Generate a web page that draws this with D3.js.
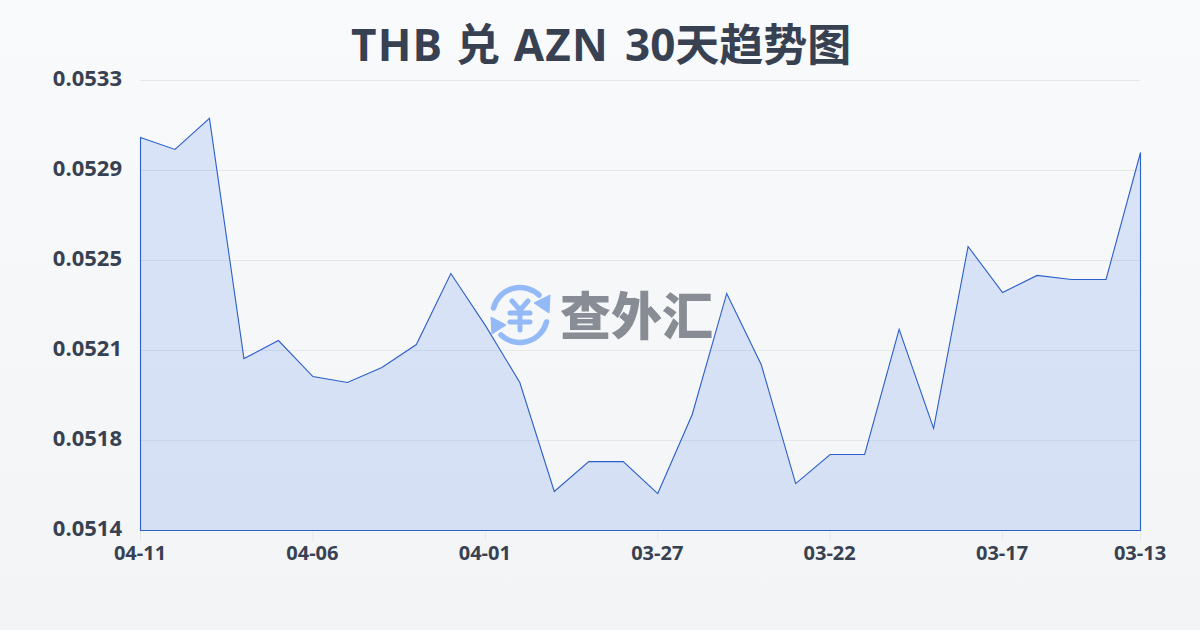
<!DOCTYPE html>
<html><head><meta charset="utf-8">
<script src="https://cdn.jsdelivr.net/npm/d3@7"></script>
<style>html,body{margin:0;padding:0;width:1200px;height:630px;overflow:hidden}svg{display:block}</style>
</head><body><svg id="c" width="1200" height="630"></svg>
<script>
const titlePair = "THB 兑 AZN";
const titleRest = "30天趋势图";
const dates = ["04-11","04-10","04-09","04-08","04-07","04-06","04-05","04-04","04-03","04-02","04-01","03-31","03-30","03-29","03-28","03-27","03-26","03-25","03-24","03-23","03-22","03-21","03-20","03-19","03-18","03-17","03-16","03-15","03-14","03-13"];
const rates = [0.053059,0.053009,0.053140,0.052126,0.052202,0.052050,0.052025,0.052088,0.052185,0.052485,0.052266,0.052025,0.051565,0.051691,0.051691,0.051556,0.051890,0.052401,0.052101,0.051598,0.051721,0.051721,0.052249,0.051831,0.052599,0.052405,0.052477,0.052460,0.052460,0.052996];
const xTickLabels = ["04-11","04-06","04-01","03-27","03-22","03-17","03-13"];
const yTickLabels = ["0.0514","0.0518","0.0521","0.0525","0.0529","0.0533"];
const yMin = 0.0514, yMax = 0.0533;

const font = "'Open Sans','Noto Sans CJK SC',sans-serif";
const svg = d3.select("#c");
const defs = svg.append("defs");
const bg = defs.append("linearGradient").attr("id","bg").attr("x1",0).attr("y1",0).attr("x2",0).attr("y2",1);
bg.append("stop").attr("offset","0%").attr("stop-color","#f8fafc");
bg.append("stop").attr("offset","100%").attr("stop-color","#f3f4f6");
svg.append("rect").attr("width",1200).attr("height",630).attr("fill","url(#bg)");

const x = d3.scalePoint().domain(dates).range([140.5,1140.5]);
const y = d3.scaleLinear().domain([yMin,yMax]).range([530.5,80.5]);
const yPos = d3.scalePoint().domain(yTickLabels).range([530,80]);

svg.append("g").selectAll("line").data(yTickLabels).join("line")
  .attr("x1",140).attr("x2",1140).attr("y1",d=>yPos(d)+.5).attr("y2",d=>yPos(d)+.5)
  .attr("stroke","#e5e7eb").attr("stroke-width",1);

const area = d3.area().x((d,i)=>x(dates[i])).y0(530.5).y1(d=>y(d));
svg.append("path").datum(rates).attr("d",area).attr("fill","#2563eb").attr("fill-opacity",.14);
svg.append("path").datum(rates).attr("d",area).attr("fill","none").attr("stroke","#2b5fc9").attr("stroke-width",1.1);

svg.append("g").selectAll("line").data(xTickLabels).join("line")
  .attr("x1",d=>x(d)).attr("x2",d=>x(d))
  .attr("y1",531).attr("y2",541).attr("stroke","#e5e7eb");
svg.append("g").selectAll("text").data(xTickLabels).join("text")
  .attr("x",d=>x(d)-.5).attr("y",560).attr("text-anchor","middle")
  .attr("font-family",font).attr("font-size",20).attr("font-weight",700).attr("fill","#374151").text(d=>d);
svg.append("g").selectAll("text").data(yTickLabels).join("text")
  .attr("x",122).attr("y",d=>yPos(d)+6).attr("text-anchor","end")
  .attr("font-family",font).attr("font-size",22).attr("font-weight",700).attr("fill","#374151").text(d=>d);

const title = svg.append("text").attr("y",61)
  .attr("font-family",font).attr("font-size",44).attr("font-weight",700).attr("fill","#374151");
title.append("tspan").attr("x",351).attr("letter-spacing",1.2).text(titlePair);
title.append("tspan").attr("x",625).text(titleRest);

// watermark
const wm = svg.append("g").attr("transform","translate(520,315)");
const blue="#93b9f7";
wm.append("path").attr("d","M-26.5,-7 A27.5,27.5 0 0 1 19,-20").attr("fill","none").attr("stroke",blue).attr("stroke-width",5.5).attr("stroke-linecap","round");
wm.append("path").attr("d","M26.5,7 A27.5,27.5 0 0 1 -19,20").attr("fill","none").attr("stroke",blue).attr("stroke-width",5.5).attr("stroke-linecap","round");
wm.append("path").attr("d","M14,-12 L30,-20 L29,-2 Z").attr("fill",blue).attr("stroke",blue).attr("stroke-linejoin","round");
wm.append("path").attr("d","M-14,10 L-29,2 L-28,19 Z").attr("fill",blue).attr("stroke",blue).attr("stroke-linejoin","round");
wm.append("path").attr("d","M-8,-14 L0,-5 L8,-14 M-10,-2 H10 M-10,7 H10 M0,-5 V15").attr("fill","none").attr("stroke",blue).attr("stroke-width",5).attr("stroke-linecap","round");
wm.append("text").attr("x",40).attr("y",20).attr("font-family","'Noto Sans CJK SC',sans-serif").attr("font-size",51).attr("font-weight",900).attr("fill","#888c94").text("查外汇");
</script></body></html>
